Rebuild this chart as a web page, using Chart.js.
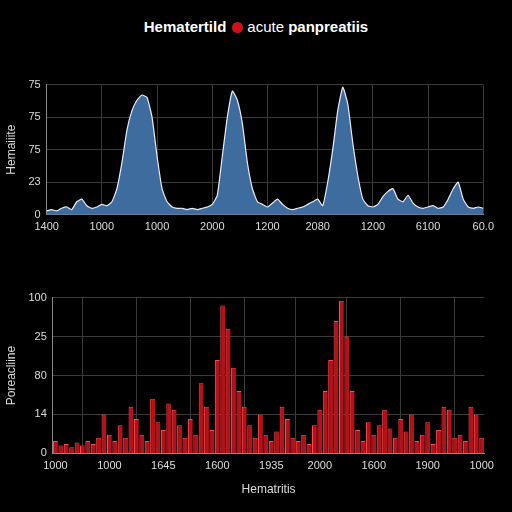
<!DOCTYPE html>
<html><head><meta charset="utf-8">
<script src="https://cdn.jsdelivr.net/npm/chart.js@4/dist/chart.umd.min.js"></script>
<style>
body{margin:0;background:#000;width:512px;height:512px;overflow:hidden;font-family:"Liberation Sans",Arial,sans-serif}
#title{position:absolute;top:18px;left:0;width:512px;text-align:center;color:#fff;font-size:15px}
#title b{font-weight:bold}
.dot{display:inline-block;width:11px;height:11px;border-radius:50%;background:#d0101a;margin:0 4px 0 6px;vertical-align:-1px}
.box{position:absolute;left:0;width:500px}
</style></head><body>
<div id="title"><b>Hematertild</b><span class="dot"></span>acute <b>panpreatiis</b></div>
<div class="box" style="top:72px;height:168px"><canvas id="c1"></canvas></div>
<div class="box" style="top:285px;height:216px"><canvas id="c2"></canvas></div>
<script>
const topValues=[3,4,3,5,6,4,10,12,7,5,6,8,7,10,20,40,65,80,88,92,90,75,45,20,10,6,5,5,4,5,4,5,6,8,15,45,75,95,88,70,40,20,10,8,6,9,12,8,5,4,5,6,8,10,12,7,25,50,80,98,85,55,30,12,7,6,8,14,18,20,12,10,15,9,6,5,6,7,5,6,12,20,25,12,6,5,6,5];
const topXTicks=["1400","1000","1000","2000","1200","2080","1200","6100","60.0"];
const topYTicks=["0","23","75","75","75"];
const bottomValues=[8,5,6,4,7,5,8,6,10,25,12,8,18,10,30,22,12,8,35,20,15,32,28,18,10,22,12,45,30,15,60,95,80,55,40,30,18,10,25,12,8,14,30,22,10,8,12,6,18,28,40,60,85,98,75,40,15,8,20,12,18,28,16,10,22,14,25,8,12,20,6,15,30,28,10,12,8,30,25,10];
const bottomXTicks=["1000","1000","1645","1600","1935","2000","1600","1900","1000"];
const bottomYTicks=["0","14","80","25","100"];
const grid='#3a3a3a', txt='#dddddd';
function mk(id,type,vals,xt,yt,ytitle,xtitle,ds){
  const n=vals.length, step=(n-1)/(xt.length-1);
  const pos=xt.map((_,k)=>Math.round(k*step));
  return new Chart(document.getElementById(id),{type,data:{labels:vals.map((_,i)=>i),datasets:[Object.assign({data:vals},ds)]},
  options:{responsive:true,maintainAspectRatio:false,animation:false,plugins:{legend:{display:false},tooltip:{enabled:false}},
  layout:{padding:{right:12}},
  scales:{x:{grid:{color:grid,drawTicks:false},border:{color:'#888'},offset:type==='bar',
    ticks:{color:txt,font:{size:11},autoSkip:false,maxRotation:0,padding:6,callback:(v,i)=>{const k=pos.indexOf(i);return k>=0?xt[k]:null}},
    title:{display:!!xtitle,text:xtitle,color:txt,font:{size:12}}},
   y:{min:0,max:100,grid:{color:grid,drawTicks:false},border:{color:'#888'},
    afterBuildTicks:a=>{a.ticks=[0,25,50,75,100].map(v=>({value:v}))},
    ticks:{color:txt,font:{size:11},padding:6,callback:(v)=>yt[v/25]},
    title:{display:true,text:ytitle,color:txt,font:{size:12}}}}}});
}
mk('c1','line',topValues,topXTicks,topYTicks,'Hemaiiite',null,{fill:true,backgroundColor:'#3f6c9e',borderColor:'#e8eef8',borderWidth:1.2,pointRadius:0,tension:0.15});
mk('c2','bar',bottomValues,bottomXTicks,bottomYTicks,'Poreacliine','Hematritis',{backgroundColor:'#b8101a',borderColor:'#ff4a4a',borderWidth:{left:1,right:0,top:1,bottom:0},barPercentage:1,categoryPercentage:0.9});
</script></body></html>
